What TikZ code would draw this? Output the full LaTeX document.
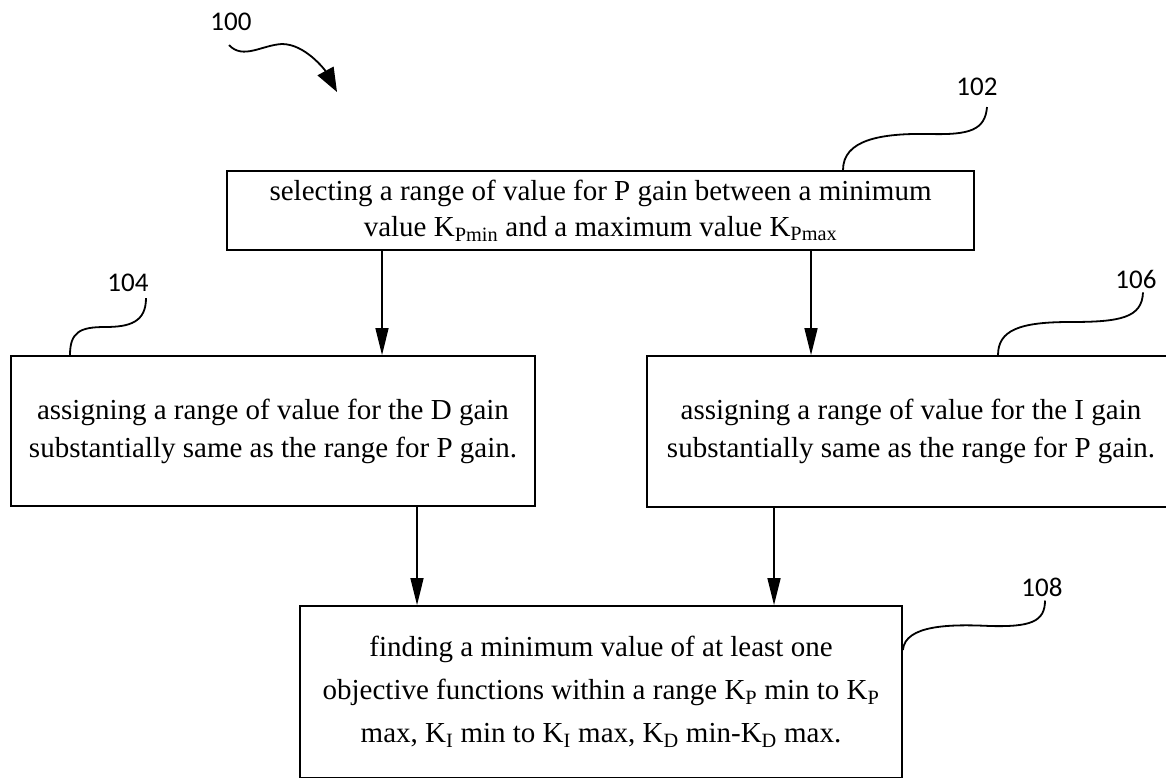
\documentclass[tikz,border=0pt]{standalone}
\usepackage{fontspec}
\setmainfont{Liberation Serif}
\newfontfamily\chiffres{Carlito}
\usetikzlibrary{arrows.meta}

\begin{document}
\begin{tikzpicture}[x=1pt,y=-1pt]
\tikzstyle{boite}=[rectangle,draw,line width=1.8pt,align=center,inner sep=0pt,
font=\fontsize{29}{38}\selectfont]
\tikzstyle{repere}=[inner sep=0pt,font=\chiffres\fontsize{27}{27}\selectfont]
\tikzstyle{suite}=[-{Triangle[length=27pt,width=13pt]},line width=1.5pt]
\tikzstyle{renvoi}=[line width=1.8pt]

\useasboundingbox (0,0) rectangle (1166,777);

\node[boite,minimum width=747pt,minimum height=79pt,font=\fontsize{29}{36}\selectfont] (choix) at (600.5,210.5) {selecting a range of value for P gain between a minimum\\value K\textsubscript{Pmin} and a maximum value K\textsubscript{Pmax}};
\node[boite,minimum width=524pt,minimum height=150pt] (gauche) at (273,431) {assigning a range of value for the D gain\\substantially same as the range for P gain.};
\node[boite,minimum width=528pt,minimum height=151pt] (droite) at (911,431.5) {assigning a range of value for the I gain\\substantially same as the range for P gain.};
\node[boite,minimum width=602pt,minimum height=172pt,font=\fontsize{29}{43}\selectfont] (bilan) at (601,692) {finding a minimum value of at least one\\objective functions within a range K\textsubscript{P} min to K\textsubscript{P}\\max, K\textsubscript{I} min to K\textsubscript{I} max, K\textsubscript{D} min-K\textsubscript{D} max.};

\node[repere] (n100) at (231,22) {100};
\node[repere] (n102) at (977,87) {102};
\node[repere] (n104) at (128,283) {104};
\node[repere] (n106) at (1136,279) {106};
\node[repere] (n108) at (1042,587) {108};

\coordinate (p100) at (337,92);
\coordinate (t102) at (843,0);
\coordinate (t104) at (70,0);
\coordinate (t106) at (998,0);
\coordinate (t108) at (0,650);
\coordinate (v1) at (382,0);
\coordinate (v2) at (811,0);
\coordinate (v3) at (417,0);
\coordinate (v4) at (774,0);

\draw[suite] (choix.south -| v1) -- (gauche.north -| v1);
\draw[suite] (choix.south -| v2) -- (droite.north -| v2);
\draw[suite] (gauche.south -| v3) -- (bilan.north -| v3);
\draw[suite] (droite.south -| v4) -- (bilan.north -| v4);

\draw[renvoi,-{Triangle[length=24pt,width=18pt]}] ([xshift=-2pt,yshift=-14pt]n100.south) .. controls (243,60) and (262,45) .. (282,44) .. controls (305,44) and (325,70) .. (p100);
\draw[renvoi] ([xshift=10pt,yshift=-11pt]n102.south) .. controls (985,130) and (970,135) .. (930,134) .. controls (880,133) and (843,140) .. (choix.north -| t102);
\draw[renvoi] ([xshift=18pt,yshift=-6pt]n104.south) .. controls (146,322) and (130,327) .. (105,327) .. controls (80,327) and (70,332) .. (gauche.north -| t104);
\draw[renvoi] ([xshift=7pt,yshift=-4pt]n106.south) .. controls (1142,318) and (1120,322) .. (1070,322) .. controls (1020,322) and (998,330) .. (droite.north -| t106);
\draw[renvoi] ([xshift=3pt,yshift=-4pt]n108.south) .. controls (1045,622) and (1030,627) .. (990,626) .. controls (950,624) and (905,625) .. (bilan.east |- t108);

\end{tikzpicture}
\end{document}
